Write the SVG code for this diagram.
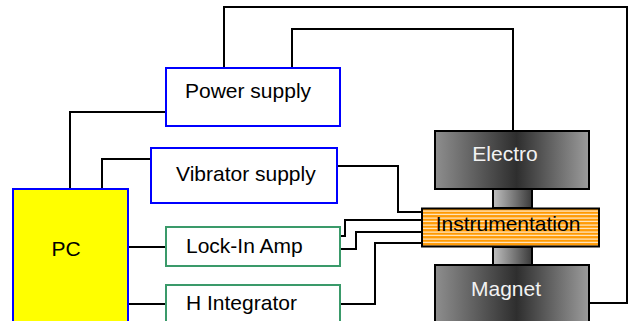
<svg xmlns="http://www.w3.org/2000/svg" width="629" height="321" viewBox="0 0 629 321">
<style>
text{font-family:"Liberation Sans",Arial,sans-serif;font-size:21px}
.blue{fill:#fff;stroke:#0000ff;stroke-width:2}
.green{fill:#fff;stroke:#3a9a6a;stroke-width:2}
.wire{fill:none;stroke:#000;stroke-width:2}
.mag{stroke:#000;stroke-width:2}
.lbl{fill:#000}
.wlbl{fill:#f2f2f2;text-anchor:middle}
</style>
<defs>
<linearGradient id="gMag" x1="0" y1="0" x2="1" y2="0">
<stop offset="0" stop-color="#8e8e8e"/>
<stop offset="0.53" stop-color="#2e2e2e"/>
<stop offset="1" stop-color="#9c9c9c"/>
</linearGradient>
<linearGradient id="gNeck" x1="0" y1="0" x2="1" y2="0">
<stop offset="0" stop-color="#c0c0c0"/>
<stop offset="1" stop-color="#3a3a3a"/>
</linearGradient>
<pattern id="stripes" x="0" y="209" width="10" height="3.5" patternUnits="userSpaceOnUse">
<rect x="0" y="0" width="10" height="3.5" fill="#ff9900"/>
<rect x="0" y="1.5" width="10" height="1" fill="#ffffff"/>
</pattern>
</defs>
<g id="connectors">
<polyline class="wire" points="224,68 224,7 627,7 627,303 589,303"/>
<polyline class="wire" points="292,68 292,29 513,29 513,131"/>
<polyline class="wire" points="70,189 70,112 166,112"/>
<polyline class="wire" points="102,189 102,159 151,159"/>
<line class="wire" x1="128" y1="247" x2="166" y2="247"/>
<line class="wire" x1="128" y1="304" x2="166" y2="304"/>
<polyline class="wire" points="337,166 398,166 398,212 422,212"/>
<polyline class="wire" points="340,236 345,236 345,220 422,220"/>
<polyline class="wire" points="340,249 356,249 356,232 422,232"/>
<polyline class="wire" points="340,304 375,304 375,243 422,243"/>
</g>
<g id="power-supply">
<rect class="blue" x="166" y="68" width="174" height="58"/>
<text class="lbl" x="185" y="98">Power supply</text>
</g>
<g id="vibrator-supply">
<rect class="blue" x="151" y="148" width="186" height="55"/>
<text class="lbl" x="176" y="181">Vibrator supply</text>
</g>
<g id="pc">
<rect x="13" y="189" width="115" height="140" fill="#ffff00" stroke="#0000ff" stroke-width="2"/>
<text class="lbl" x="66" y="256" text-anchor="middle">PC</text>
</g>
<g id="lock-in-amp">
<rect class="green" x="166" y="227" width="174" height="39"/>
<text class="lbl" x="186" y="253">Lock-In Amp</text>
</g>
<g id="h-integrator">
<rect class="green" x="166" y="285" width="174" height="45"/>
<text class="lbl" x="186" y="310">H Integrator</text>
</g>
<g id="electro">
<rect class="mag" x="435" y="131" width="154" height="58" fill="url(#gMag)"/>
<text class="wlbl" x="505" y="161">Electro</text>
</g>
<g id="neck-upper">
<rect class="mag" x="493" y="189" width="39" height="19" fill="url(#gNeck)"/>
</g>
<g id="neck-lower">
<rect class="mag" x="493" y="247" width="39" height="18" fill="url(#gNeck)"/>
</g>
<g id="magnet">
<rect class="mag" x="435" y="265" width="154" height="70" fill="url(#gMag)"/>
<text class="wlbl" x="506" y="296">Magnet</text>
</g>
<g id="instrumentation">
<rect x="422" y="208.5" width="177" height="38" fill="url(#stripes)" stroke="#000" stroke-width="2"/>
<text class="lbl" x="508" y="231" text-anchor="middle">Instrumentation</text>
</g>
</svg>
